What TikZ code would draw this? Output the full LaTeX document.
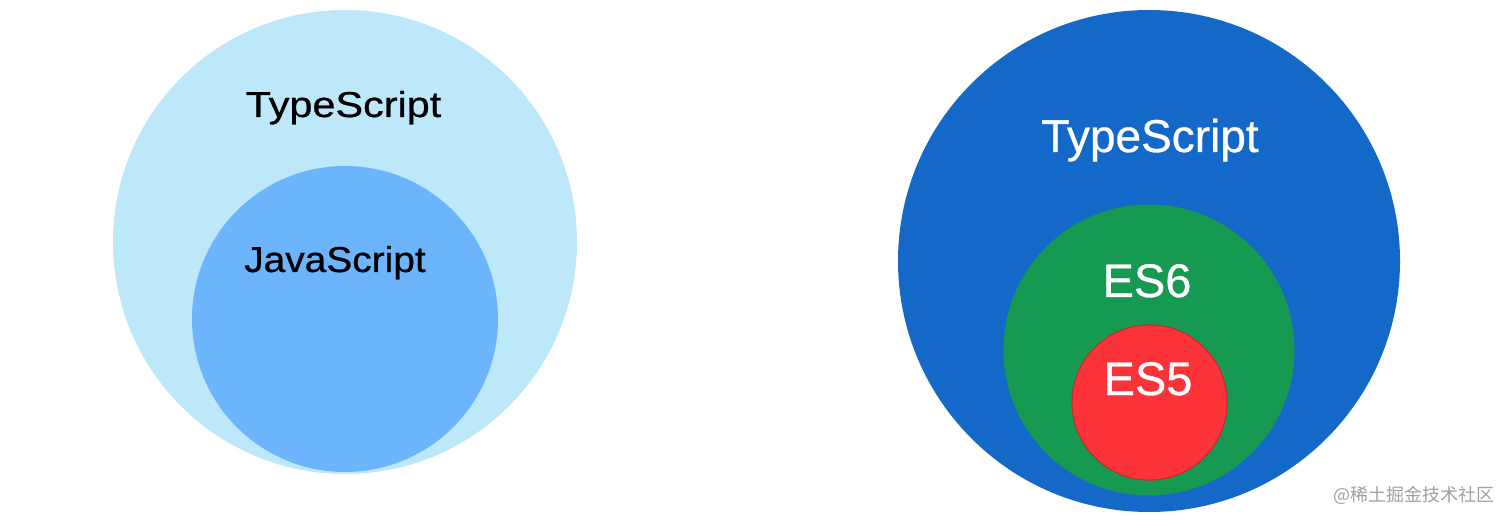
\documentclass[tikz,border=0pt]{standalone}
\usepackage{fontspec}
\setmainfont{Liberation Sans}
\newfontfamily\lblfont[FakeBold=0.7]{Liberation Sans}
\newfontfamily\tsleft[FakeStretch=1.15,FakeBold=0.7]{Liberation Sans}
\newfontfamily\jsleft[FakeStretch=1.08,FakeBold=0.7]{Liberation Sans}
\newfontfamily\cjk{Noto Sans CJK SC}
\definecolor{tslight}{RGB}{189,232,250}
\definecolor{jsblue}{RGB}{108,180,252}
\definecolor{tsblue}{RGB}{20,105,200}
\definecolor{esgreen}{RGB}{22,153,80}
\definecolor{esred}{RGB}{252,52,58}
\definecolor{esredline}{RGB}{205,40,45}
\definecolor{wmgray}{RGB}{160,160,160}
\tikzset{
  disc/.style={circle, inner sep=0pt, outer sep=0pt, draw=none},
  lab/.style={anchor=base, inner sep=0pt},
}
\begin{document}
\begin{tikzpicture}[x=1pt,y=-1pt]
\useasboundingbox (0,0) rectangle (1512,521);
% left diagram
\node[disc, fill=tslight, minimum size=464pt] (tsL) at (345,242) {};
\node[disc, fill=jsblue, minimum size=306pt] (jsL) at (345,319) {};
\node[lab, font=\tsleft\fontsize{36}{40}\selectfont, text=black] (tsLtext) at (343.5,117) {TypeScript};
\node[lab, font=\jsleft\fontsize{36}{40}\selectfont, text=black] (jsLtext) at (335,272) {JavaScript};
% right diagram
\node[disc, fill=tsblue, minimum size=502pt] (tsR) at (1149,261) {};
\node[disc, fill=esgreen, minimum size=291pt] (es6) at (1149,350) {};
\node[disc, fill=esred, draw=esredline, line width=1.2pt, minimum size=155pt] (es5) at (1149.5,402.5) {};
\node[lab, font=\lblfont\fontsize{46}{50}\selectfont, text=white] (tsRtext) at (1150,152) {TypeScript};
\node[lab, font=\lblfont\fontsize{47}{50}\selectfont, text=white] (es6text) at (1147,297) {ES6};
\node[lab, font=\lblfont\fontsize{47}{50}\selectfont, text=white] (es5text) at (1148,395) {ES5};
% watermark
\node[anchor=east, inner sep=0pt, font=\cjk\fontsize{18}{22}\selectfont, text=wmgray] (wm) at (1495,495) {@稀土掘金技术社区};
\end{tikzpicture}
\end{document}
